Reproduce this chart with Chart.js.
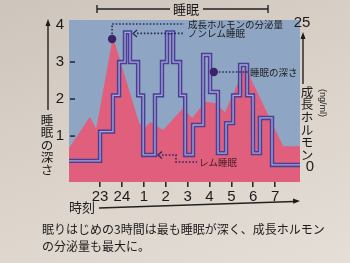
<!DOCTYPE html>
<html>
<head>
<meta charset="utf-8">
<script src="https://cdn.jsdelivr.net/npm/chart.js@4"></script>
<style>
    html, body { margin: 0; padding: 0; }
    body {
        width: 350px; height: 263px; overflow: hidden;
        background: linear-gradient(160deg, #cdc4bb 0%, #dad2c9 45%, #e5ded6 100%);
    }
    canvas { display: block; }
</style>
</head>
<body>
<canvas id="sleepChart" width="350" height="263"></canvas>
<script>
// hours after midnight are written as 25, 26, ... so the axis is continuous
const depthTimes  = [21.58, 23.0, 23.59, 23.87, 24.14, 24.37, 24.74, 24.97, 25.51, 25.83, 26.06, 26.34, 26.66, 26.89, 27.25, 27.71, 28.03, 28.39, 28.76, 29.08, 29.4, 29.72, 29.99, 30.31, 30.86, 32.14];
const depthLevels = [0.33, 1.12, 2.1, 3.0, 3.8, 3.0, 2.1, 0.49, 2.1, 3.0, 3.8, 3.0, 2.1, 0.49, 1.3, 3.19, 2.19, 0.54, 1.35, 2.1, 2.92, 2.1, 0.54, 1.49, 0.22, 0.22];

const hormoneTimes  = [21.58, 22.54, 22.82, 23.59, 24.79, 25.06, 25.29, 25.88, 26.79, 27.21, 27.8, 28.26, 28.71, 29.63, 31.37, 32.14];
const hormoneLevels = [3.3, 8.7, 6.6, 22.6, 7.6, 6.8, 7.8, 6.4, 10.2, 8.5, 11.3, 11.1, 9.5, 17.4, 3.6, 3.6];

const xTicks = [23, 24, 25, 26, 27, 28, 29, 30, 31];
const xTickLabels = ["23", "24", "1", "2", "3", "4", "5", "6", "7"];
const depthTicks = [1, 2, 3, 4];
const hormoneTicks = [0, 25];

const BLUE = "#8ea6c3";
const PINK = "#df5f7d";
const LINE = "#4a3f95";
const DOTS = "#2b2a5c";
const TEXT = "#1c1a1a";
const JP = "'Noto Sans CJK JP', sans-serif";

function dotted(ctx, pts) {
    ctx.save();
    ctx.strokeStyle = DOTS;
    ctx.lineWidth = 1.6;
    ctx.setLineDash([1.6, 1.8]);
    ctx.beginPath();
    ctx.moveTo(pts[0][0], pts[0][1]);
    for (let i = 1; i < pts.length; i++) ctx.lineTo(pts[i][0], pts[i][1]);
    ctx.stroke();
    ctx.restore();
}

function chevron(ctx, x, y) {
    ctx.save();
    ctx.strokeStyle = DOTS;
    ctx.lineWidth = 1.3;
    ctx.beginPath();
    ctx.moveTo(x + 4, y - 3.5);
    ctx.lineTo(x, y);
    ctx.lineTo(x + 4, y + 3.5);
    ctx.stroke();
    ctx.restore();
}

function vertText(ctx, str, x, y, step) {
    Array.from(str).forEach((ch, i) => ctx.fillText(ch, x, y + i * step));
}

const decorPlugin = {
    id: "decor",
    beforeDraw(chart) {
        const { ctx, chartArea: a } = chart;
        ctx.save();
        ctx.fillStyle = BLUE;
        ctx.fillRect(a.left, a.top, a.right - a.left, a.bottom - a.top);
        ctx.restore();
    },
    afterDraw(chart) {
        const { ctx, chartArea: a } = chart;
        const xs = chart.scales.x, ys = chart.scales.y, y2 = chart.scales.y2;
        ctx.save();

        // little dashes on the depth axis
        ctx.strokeStyle = "#2a2a3a";
        ctx.lineWidth = 1.6;
        depthTicks.slice(0, 3).forEach(v => {
            const py = ys.getPixelForValue(v);
            ctx.beginPath();
            ctx.moveTo(a.left + 1, py);
            ctx.lineTo(a.left + 6, py);
            ctx.stroke();
        });

        // hormone axis numbers on the right
        ctx.fillStyle = TEXT;
        ctx.font = "15px 'Liberation Sans', Arial, sans-serif";
        ctx.textAlign = "center";
        ctx.textBaseline = "middle";
        ctx.fillText(String(hormoneTicks[1]), 302, y2.getPixelForValue(hormoneTicks[1]));
        ctx.fillText(String(hormoneTicks[0]), 310, y2.getPixelForValue(hormoneTicks[0]));

        // annotation: growth hormone peak
        const hx = xs.getPixelForValue(23.55), hy = y2.getPixelForValue(22.2);
        dotted(ctx, [[hx, hy - 5], [hx, 24], [184, 24]]);
        ctx.fillStyle = "#3b2466";
        ctx.beginPath(); ctx.arc(hx, hy, 4.2, 0, Math.PI * 2); ctx.fill();

        // annotation: non-REM
        const nx = xs.getPixelForValue(24.37) + 3, ny = ys.getPixelForValue(3.8) + 1;
        chevron(ctx, nx, ny);
        dotted(ctx, [[nx + 4, ny], [184, ny]]);

        // annotation: depth of sleep
        const dx = xs.getPixelForValue(28.2), dy = ys.getPixelForValue(2.73);
        ctx.fillStyle = "#3b2466";
        ctx.beginPath(); ctx.arc(dx, dy, 4.2, 0, Math.PI * 2); ctx.fill();
        dotted(ctx, [[dx + 5, dy], [248, dy]]);

        // annotation: REM
        const rx = xs.getPixelForValue(25.51) + 3, ry = ys.getPixelForValue(0.49);
        chevron(ctx, rx, ry);
        dotted(ctx, [[rx + 4, ry], [176, ry], [176, ry + 7], [197, ry + 7]]);

        ctx.font = "9.5px " + JP;
        ctx.textAlign = "left";
        ctx.fillStyle = TEXT;
        ctx.fillText("成長ホルモンの分泌量", 188, 24);
        ctx.fillText("ノンレム睡眠", 188, ny);
        ctx.fillText("睡眠の深さ", 250, dy);
        ctx.fillStyle = "#4a1826";
        ctx.fillText("レム睡眠", 199, ry + 7);

        // top bracket "睡眠"
        ctx.strokeStyle = "#222";
        ctx.lineWidth = 1.4;
        ctx.beginPath();
        ctx.moveTo(97, 5); ctx.lineTo(97, 13);
        ctx.moveTo(97, 9); ctx.lineTo(170, 9);
        ctx.moveTo(203, 9); ctx.lineTo(268, 9);
        ctx.moveTo(268, 5); ctx.lineTo(268, 13);
        ctx.stroke();
        ctx.fillStyle = TEXT;
        ctx.font = "13px " + JP;
        ctx.textAlign = "center";
        ctx.fillText("睡眠", 186, 9);

        // left axis title with arrow
        ctx.beginPath();
        ctx.moveTo(48, 110); ctx.lineTo(48, 22);
        ctx.stroke();
        ctx.beginPath();
        ctx.moveTo(48, 19); ctx.lineTo(45.5, 26); ctx.lineTo(50.5, 26); ctx.closePath();
        ctx.fill();
        ctx.font = "12.5px " + JP;
        vertText(ctx, "睡眠の深さ", 47, 120, 12.5);

        // right axis title with arrow
        ctx.beginPath();
        ctx.moveTo(303, 84); ctx.lineTo(303, 35);
        ctx.stroke();
        ctx.beginPath();
        ctx.moveTo(303, 32); ctx.lineTo(300.5, 39); ctx.lineTo(305.5, 39); ctx.closePath();
        ctx.fill();
        vertText(ctx, "成長ホルモン", 307, 92, 12.6);
        ctx.save();
        ctx.translate(322, 103);
        ctx.rotate(Math.PI / 2);
        ctx.font = "9px 'Liberation Sans', Arial, sans-serif";
        ctx.fillText("(ng/ml)", 0, 0);
        ctx.restore();

        // time axis title with arrow
        ctx.font = "13px " + JP;
        ctx.fillText("時刻", 82, 207);
        ctx.beginPath();
        ctx.moveTo(99, 208); ctx.lineTo(294, 201.5);
        ctx.stroke();
        ctx.beginPath();
        ctx.moveTo(300, 201); ctx.lineTo(293, 198.5); ctx.lineTo(293.3, 203.8); ctx.closePath();
        ctx.fill();

        // caption
        ctx.font = "12px " + JP;
        ctx.textAlign = "left";
        ctx.fillText("眠りはじめの3時間は最も睡眠が深く、成長ホルモン", 42, 229);
        ctx.fillText("の分泌量も最大に。", 42, 246);

        ctx.restore();
    }
};

const ctx = document.getElementById("sleepChart").getContext("2d");

const depthData = depthTimes.map((t, i) => ({ x: t, y: depthLevels[i] }));
const hormoneData = hormoneTimes.map((t, i) => ({ x: t, y: hormoneLevels[i] }));

new Chart(ctx, {
    type: "line",
    data: {
        datasets: [
            {
                label: "睡眠の深さ",
                data: depthData,
                yAxisID: "y",
                stepped: "before",
                borderColor: "rgba(170,172,222,0.95)",
                borderWidth: 1.3,
                pointRadius: 0,
                fill: false,
                order: 1
            },
            {
                label: "睡眠の深さ (outline)",
                data: depthData,
                yAxisID: "y",
                stepped: "before",
                borderColor: LINE,
                borderWidth: 4.4,
                pointRadius: 0,
                fill: false,
                order: 2
            },
            {
                label: "成長ホルモンの分泌量",
                data: hormoneData,
                yAxisID: "y2",
                borderWidth: 0,
                borderColor: PINK,
                backgroundColor: PINK,
                pointRadius: 0,
                tension: 0,
                fill: "start",
                order: 3
            }
        ]
    },
    options: {
        responsive: false,
        animation: false,
        devicePixelRatio: 1,
        layout: { padding: { top: 20, right: 50, left: 0, bottom: 0 } },
        plugins: {
            legend: { display: false },
            tooltip: { enabled: false }
        },
        scales: {
            x: {
                type: "linear",
                min: 21.58,
                max: 32.14,
                afterBuildTicks: s => { s.ticks = xTicks.map(v => ({ value: v })); },
                afterFit: s => { s.height = 81; },
                ticks: {
                    callback: v => xTickLabels[xTicks.indexOf(v)],
                    autoSkip: false,
                    maxRotation: 0,
                    padding: 1,
                    color: TEXT,
                    font: { family: "'Liberation Sans', Arial, sans-serif", size: 15 }
                },
                grid: { drawOnChartArea: false, tickLength: 5, color: "#2a2a2a", lineWidth: 1.6 },
                border: { display: false }
            },
            y: {
                type: "linear",
                min: -0.24,
                max: 4.135,
                afterBuildTicks: s => { s.ticks = depthTicks.map(v => ({ value: v })); },
                afterFit: s => { s.width = 69; },
                ticks: {
                    padding: 5,
                    color: TEXT,
                    font: { family: "'Liberation Sans', Arial, sans-serif", size: 15 }
                },
                grid: { display: false, drawTicks: false },
                border: { display: false }
            },
            y2: {
                type: "linear",
                display: false,
                position: "right",
                min: -2.6,
                max: 25.5
            }
        }
    },
    plugins: [decorPlugin]
});
</script>
</body>
</html>
